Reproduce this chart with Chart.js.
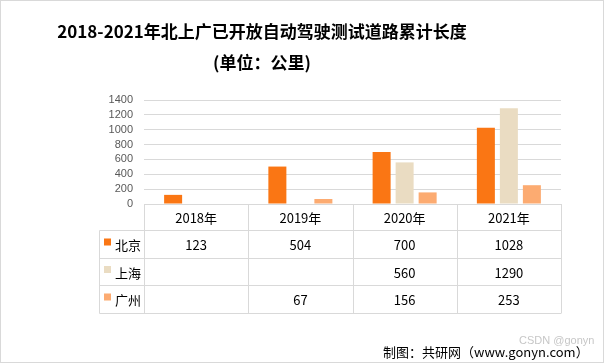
<!DOCTYPE html>
<html>
<head>
<meta charset="utf-8">
<script src="https://cdn.jsdelivr.net/npm/chart.js@4"></script>
<style>
  html, body { margin: 0; padding: 0; background: #fff; }
  #wrap { position: relative; width: 605px; height: 364px; }
</style>
</head>
<body>
<div id="wrap"><canvas id="chart" width="605" height="364"></canvas></div>
<script>
const years = ["2018年", "2019年", "2020年", "2021年"];
const cities = ["北京", "上海", "广州"];
const beijing = [123, 504, 700, 1028];
const shanghai = [null, null, 560, 1290];
const guangzhou = [null, 67, 156, 253];
const yTicks = [0, 200, 400, 600, 800, 1000, 1200, 1400];
const colors = ["#fa7614", "#eadcc2", "#fcab71"];

const CJK = "'Noto Sans CJK SC', 'Noto Sans', sans-serif";
const LINE = "#d9d9d9";

// title, data table, source line and frame
const decorPlugin = {
  id: "decor",
  afterDraw(chart) {
    const ctx = chart.ctx;
    const area = chart.chartArea;
    const x = chart.scales.x;
    const series = [beijing, shanghai, guangzhou];
    ctx.save();

    // outer frame
    ctx.strokeStyle = LINE;
    ctx.lineWidth = 1;
    ctx.strokeRect(0.5, 0.5, 603, 362);

    // title
    ctx.fillStyle = "#000";
    ctx.textAlign = "center";
    ctx.textBaseline = "middle";
    ctx.font = "bold 17px " + CJK;
    ctx.fillText("2018-2021年北上广已开放自动驾驶测试道路累计长度", 262, 32);
    ctx.fillText("(单位：公里)", 262, 63);

    // table geometry
    const step = (area.right - area.left) / years.length;
    const rowY = [area.bottom, 230.5, 258.5, 285.5, 313.5];
    const legendLeft = 99.5;

    ctx.beginPath();
    for (let i = 1; i < rowY.length; i++) {
      ctx.moveTo(legendLeft, rowY[i]);
      ctx.lineTo(area.right, rowY[i]);
    }
    ctx.moveTo(legendLeft, rowY[1]);
    ctx.lineTo(legendLeft, rowY[4]);
    for (let i = 0; i <= years.length; i++) {
      const vx = Math.round(area.left + step * i) + 0.5;
      ctx.moveTo(vx, rowY[0]);
      ctx.lineTo(vx, rowY[4]);
    }
    ctx.stroke();

    // header
    ctx.font = "13px " + CJK;
    ctx.fillStyle = "#000";
    years.forEach((y, i) => {
      ctx.fillText(y, x.getPixelForValue(i), (rowY[0] + rowY[1]) / 2 + 1);
    });

    // rows
    cities.forEach((c, r) => {
      const cy = (rowY[r + 1] + rowY[r + 2]) / 2 + 1;
      ctx.fillStyle = colors[r];
      ctx.fillRect(104, cy - 7, 7, 7);
      ctx.fillStyle = "#000";
      ctx.textAlign = "left";
      ctx.fillText(c, 115, cy);
      ctx.textAlign = "center";
      series[r].forEach((v, i) => {
        if (v !== null) ctx.fillText(String(v), x.getPixelForValue(i), cy);
      });
    });

    // source + watermark
    ctx.textAlign = "left";
    ctx.fillStyle = "#000";
    ctx.font = "13px " + CJK;
    ctx.fillText("制图：共研网（www.gonyn.com）", 383, 352);
    ctx.fillStyle = "rgba(160,160,160,0.6)";
    ctx.font = "11px 'Liberation Sans', sans-serif";
    ctx.fillText("CSDN @gonyn", 519, 341);

    ctx.restore();
  },
};

new Chart(document.getElementById("chart"), {
  type: "bar",
  data: {
    labels: years,
    datasets: [
      { label: cities[0], data: beijing, backgroundColor: colors[0] },
      { label: cities[1], data: shanghai, backgroundColor: colors[1] },
      { label: cities[2], data: guangzhou, backgroundColor: colors[2] },
    ],
  },
  options: {
    responsive: false,
    animation: false,
    layout: { padding: { left: 0, right: 44, top: 100, bottom: 160 } },
    datasets: { bar: { categoryPercentage: 0.662, barPercentage: 0.783 } },
    plugins: { legend: { display: false }, tooltip: { enabled: false } },
    scales: {
      x: { display: false },
      y: {
        min: 0,
        max: 1400,
        afterFit(scale) { scale.width = 144; },
        afterBuildTicks(scale) { scale.ticks = yTicks.map((v) => ({ value: v })); },
        border: { display: false },
        grid: { color: LINE, drawTicks: false },
        ticks: {
          autoSkip: false,
          padding: 11,
          color: "#595959",
          font: { family: "'Liberation Sans', sans-serif", size: 11 },
          callback: (v) => String(v),
        },
      },
    },
  },
  plugins: [decorPlugin],
});
</script>
</body>
</html>
